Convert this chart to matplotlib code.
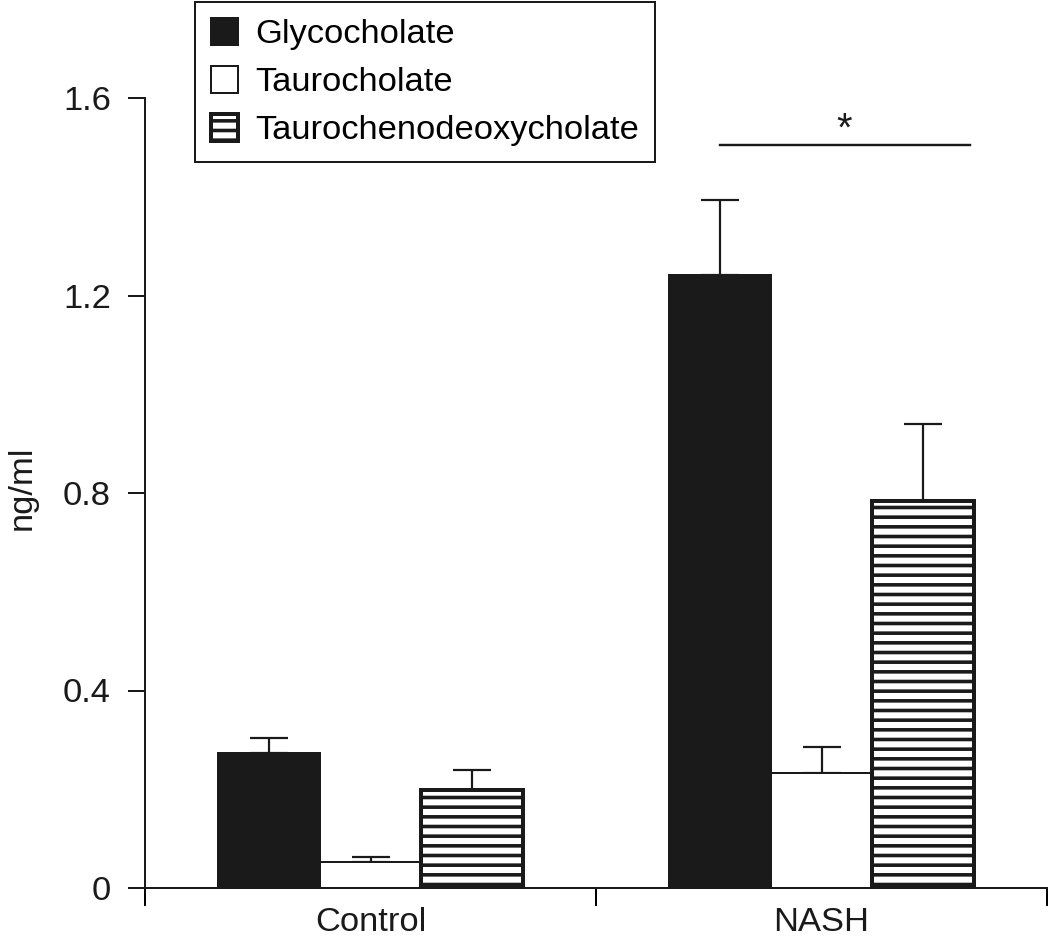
import matplotlib
matplotlib.use("Agg")
import matplotlib.pyplot as plt
import numpy as np

DPI = 116
P = 72.0 / DPI  # px -> pt

categories = ["Control", "NASH"]
series = ["Glycocholate", "Taurocholate", "Taurochenodeoxycholate"]
means = {
    "Glycocholate": [0.273, 1.241],
    "Taurocholate": [0.053, 0.233],
    "Taurochenodeoxycholate": [0.198, 0.784],
}
errors = {
    "Glycocholate": [0.030, 0.152],
    "Taurocholate": [0.010, 0.053],
    "Taurochenodeoxycholate": [0.041, 0.156],
}
yticks = [0, 0.4, 0.8, 1.2, 1.6]
ytick_labels = ["0", "0.4", "0.8", "1.2", "1.6"]
sig_label = "*"
sig_y = 1.505

plt.rcParams['font.family'] = ['Liberation Sans', 'DejaVu Sans']
plt.rcParams['hatch.linewidth'] = 3.6 * P

fig = plt.figure(figsize=(1050 / DPI, 940 / DPI), dpi=DPI)
ax = fig.add_axes([145 / 1050, 1 - 888 / 940, (1047 - 145) / 1050, (888 - 98) / 940])

FS = 34.5 * P
width = 0.225
centers = np.array([0.5, 1.5])
offsets = [-width, 0.0, width]
styles = [
    dict(facecolor="#1a1a1a", edgecolor="#1a1a1a", hatch=None, lw=2 * P),
    dict(facecolor="white", edgecolor="#1a1a1a", hatch=None, lw=2 * P),
    dict(facecolor="white", edgecolor="#1a1a1a", hatch="--", lw=4 * P),
]

handles = []
for s, off, st in zip(series, offsets, styles):
    x = centers + off
    b = ax.bar(x, means[s], width=width, facecolor=st["facecolor"],
               edgecolor=st["edgecolor"], hatch=st["hatch"], linewidth=st["lw"],
               label=s, zorder=2)
    handles.append(b)
    ax.errorbar(x, means[s], yerr=[np.zeros(len(x)), errors[s]], fmt="none",
                ecolor="#1a1a1a", elinewidth=2.2 * P, capsize=19 * P,
                capthick=2.2 * P, zorder=1)

# significance bar
ax.plot([centers[1] - width, centers[1] + width + 0.105], [sig_y, sig_y],
        color="#1a1a1a", lw=2.4 * P, clip_on=False)
ax.text(centers[1] + 0.05, 1.513, sig_label, ha="center", va="baseline",
        fontsize=40 * P, color="#1a1a1a", clip_on=False)

ax.set_xlim(0, 2)
ax.set_ylim(0, 1.6)
ax.spines["top"].set_visible(False)
ax.spines["right"].set_visible(False)
for sp in ["left", "bottom"]:
    ax.spines[sp].set_linewidth(2 * P)
    ax.spines[sp].set_color("#1a1a1a")

ax.set_yticks(yticks)
ax.set_yticklabels(ytick_labels)
ax.tick_params(axis="y", direction="out", length=17 * P, width=2 * P,
               pad=17 * P, labelsize=FS, colors="#1a1a1a")
ax.set_xticks([0, 1, 2])
ax.set_xticklabels([])
ax.set_xticks(centers, minor=True)
ax.set_xticklabels(categories, minor=True)
ax.tick_params(axis="x", which="major", direction="out", length=18 * P, width=2 * P)
ax.tick_params(axis="x", which="minor", length=0, pad=19 * P, labelsize=FS,
               colors="#1a1a1a")

fig.text(22 / 1050, 1 - 488 / 940, "ng/ml", rotation=90, ha="center",
         va="center", fontsize=FS, color="#1a1a1a")

leg = ax.legend(handles=handles, loc="upper left",
                bbox_to_anchor=(195 / 1050, 1 - 2 / 940),
                bbox_transform=fig.transFigure, frameon=True, fancybox=False,
                framealpha=1, edgecolor="#1a1a1a", borderaxespad=0,
                fontsize=FS, handlelength=0.8, handleheight=0.84,
                handletextpad=0.5, labelspacing=0.45, borderpad=0.45)
leg.get_frame().set_linewidth(2 * P)

fig.savefig("out.png", dpi=DPI, facecolor="white")
